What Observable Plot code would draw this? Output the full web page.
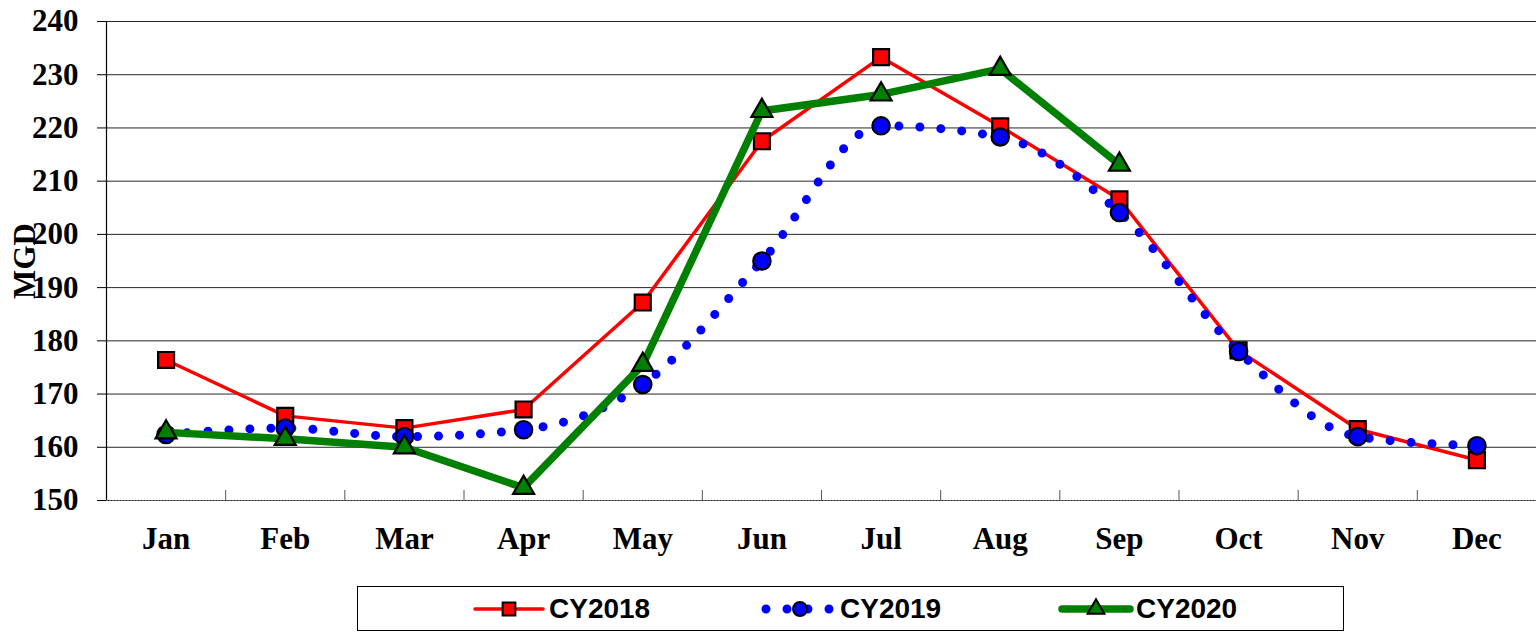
<!DOCTYPE html>
<html>
<head>
<meta charset="utf-8">
<script src="https://cdn.jsdelivr.net/npm/d3@7"></script>
<script src="https://cdn.jsdelivr.net/npm/@observablehq/plot@0.6"></script>
<style>
  html, body { margin: 0; padding: 0; background: #fff; }
  #wrap { position: relative; width: 1536px; height: 633px; overflow: hidden; }
  #legend {
    position: absolute; left: 357px; top: 586px; width: 987px; height: 45px;
    border: 1px solid #000; box-sizing: border-box; background: #fff;
    font-family: "Liberation Sans", Arial, sans-serif; font-weight: bold; font-size: 28px;
  }
  .item { position: absolute; top: 0; height: 100%; display: flex; align-items: center; }
  .item svg { display: block; }
  .item span { margin-left: 1px; }
</style>
</head>
<body>
<div id="wrap"><div id="chart"></div><div id="legend"></div></div>
<script>
// ---- data ----
const months = ["Jan","Feb","Mar","Apr","May","Jun","Jul","Aug","Sep","Oct","Nov","Dec"];
const seriesNames = ["CY2018","CY2019","CY2020"];
const cy2018 = [176.4,165.9,163.6,167.1,187.2,217.5,233.3,220.3,206.6,178.2,163.4,157.6];
const cy2019 = [162.4,163.6,162.0,163.3,171.8,195.0,220.4,218.3,204.1,178.0,162.0,160.3];
const cy2020 = [162.8,161.6,160.0,152.4,175.5,223.2,226.3,231.1,213.1];
const yTicks = [150,160,170,180,190,200,210,220,230,240];

// ---- styles ----
const styles = {
  CY2018: {stroke: "#ff0000", strokeWidth: 3.5, curve: "linear", dash: null, symbol: "square", r: 9, fill: "#ff0000"},
  CY2019: {stroke: "#0000ff", strokeWidth: 9, curve: "monotone-x", dash: "0 21", symbol: "circle", r: 8.7, fill: "#0000ff"},
  CY2020: {stroke: "#008000", strokeWidth: 7.5, curve: "linear", dash: null, symbol: "triangle", r: 7.8, fill: "#008000"}
};
const values = {CY2018: cy2018, CY2019: cy2019, CY2020: cy2020};
const rows = name => values[name].map((v, i) => ({m: i + 1, v}));
const boundaries = d3.range(1.5, 12.5, 1);

const seriesMarks = seriesNames.flatMap(name => {
  const s = styles[name];
  const data = rows(name);
  return [
    Plot.line(data, {x: "m", y: "v", stroke: s.stroke, strokeWidth: s.strokeWidth, curve: s.curve,
      strokeDasharray: s.dash, strokeLinecap: "round", strokeLinejoin: "round"}),
    Plot.dot(data, {x: "m", y: "v", symbol: s.symbol, r: s.r, fill: s.fill, stroke: "#000", strokeWidth: 2.2})
  ];
});

const chart = Plot.plot({
  width: 1536,
  height: 575,
  marginLeft: 106,
  marginRight: 0,
  marginTop: 21,
  marginBottom: 75,
  style: {fontFamily: "'Liberation Serif', 'Times New Roman', serif", fontWeight: "bold", fontSize: "31px", background: "#fff", color: "#000"},
  x: {type: "linear", domain: [0.5, 12.5], label: null},
  y: {domain: [150, 240]},
  marks: [
    Plot.gridY({ticks: yTicks, stroke: "#000", strokeOpacity: 0.85, strokeWidth: 1}),
    Plot.ruleY([150], {stroke: "#666", strokeWidth: 1, strokeDasharray: "2 1"}),
    Plot.axisX({ticks: boundaries, tickSize: 10, dy: -10, tickFormat: () => "", stroke: "#555", label: null}),
    Plot.axisX({ticks: d3.range(1, 13), tickSize: 0, tickPadding: 26, tickFormat: i => months[i - 1], label: null}),
    Plot.axisY({ticks: yTicks, tickSize: 9, tickPadding: 19, stroke: "#000", label: "MGD", labelAnchor: "center", labelOffset: 94, labelArrow: "none"}),
    Plot.ruleX([0.5], {stroke: "#000", strokeWidth: 1.2}),
    ...seriesMarks
  ]
});
document.getElementById("chart").appendChild(chart);

// ---- legend ----
const legend = document.getElementById("legend");
const itemLeft = {CY2018: 111, CY2019: 402, CY2020: 698};
seriesNames.forEach(name => {
  const s = styles[name];
  const item = document.createElement("div");
  item.className = "item";
  item.style.left = itemLeft[name] + "px";
  const sw = d3.create("svg").attr("width", 79).attr("height", 30);
  sw.append("line").attr("x1", 6).attr("x2", 74).attr("y1", 15).attr("y2", 15)
    .attr("stroke", s.stroke).attr("stroke-width", s.strokeWidth)
    .attr("stroke-linecap", "round").attr("stroke-dasharray", s.dash);
  const sym = {square: d3.symbolSquare, circle: d3.symbolCircle, triangle: d3.symbolTriangle}[s.symbol];
  sw.append("path").attr("transform", "translate(40,15)")
    .attr("d", d3.symbol(sym, Math.PI * (s.r * 0.8) ** 2)())
    .attr("fill", s.fill).attr("stroke", "#000").attr("stroke-width", 2);
  item.appendChild(sw.node());
  const t = document.createElement("span");
  t.textContent = name;
  item.appendChild(t);
  legend.appendChild(item);
});
</script>
</body>
</html>
